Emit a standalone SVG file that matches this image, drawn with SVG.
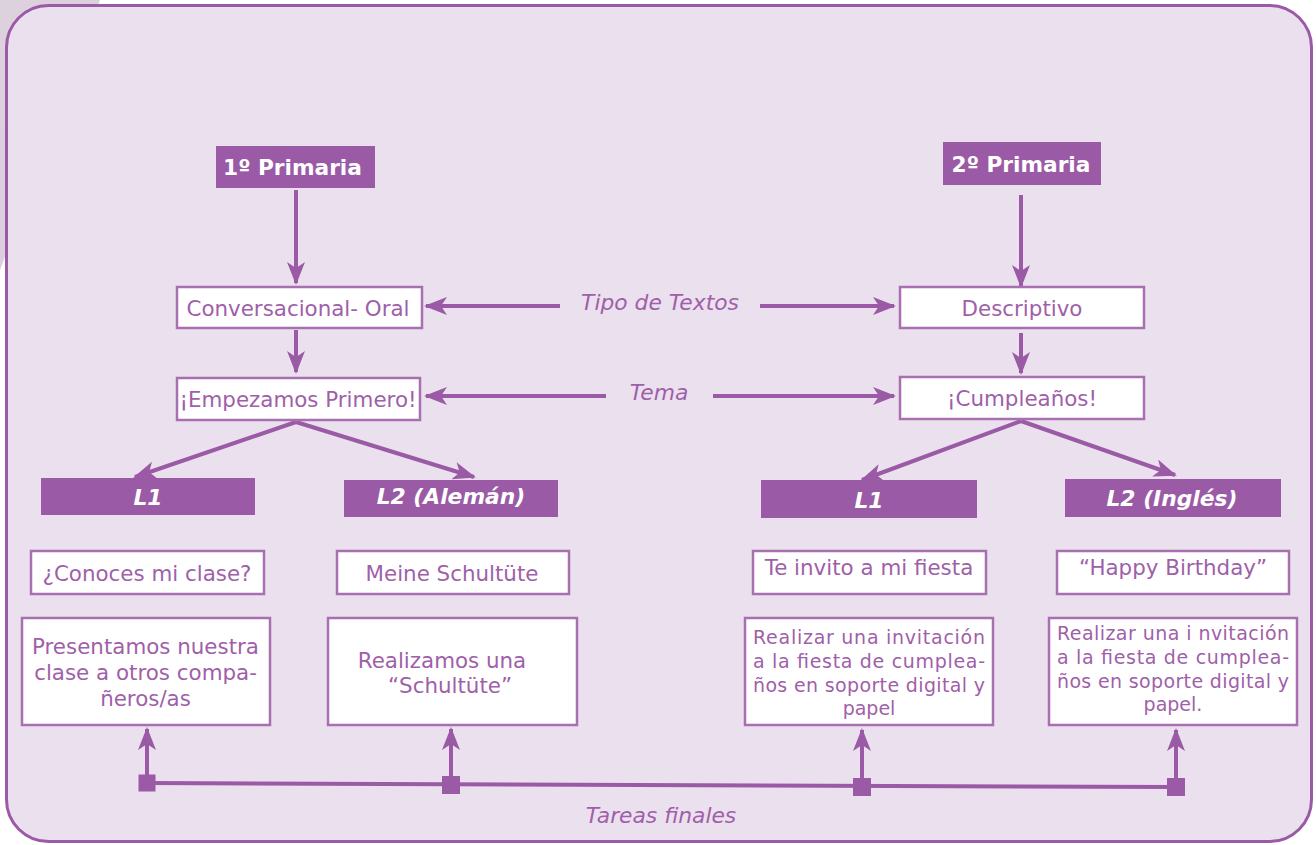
<svg xmlns="http://www.w3.org/2000/svg" width="1316" height="845" viewBox="0 0 1316 845">
<defs>
<linearGradient id="bgDeco" x1="0" y1="0" x2="1" y2="1">
<stop offset="0" stop-color="#dcd2dc"/>
<stop offset="1" stop-color="#dccbe2"/>
</linearGradient>
<marker id="ah" markerUnits="userSpaceOnUse" markerWidth="23" markerHeight="18" viewBox="0 0 23 18" refX="21" refY="9" orient="auto">
<path d="M0,0 L23,9 L0,18 L6,9 z" fill="#9b5aa5"/>
</marker>
</defs>
<style>
.hdr{fill:#9b5aa5;}
.hdrT{fill:#ffffff;font-family:"DejaVu Sans",Verdana,sans-serif;font-weight:bold;font-size:21.7px;text-anchor:middle;}
.hdrI{fill:#ffffff;font-family:"DejaVu Sans",Verdana,sans-serif;font-weight:bold;font-style:italic;font-size:21.8px;text-anchor:middle;}
.box{fill:#ffffff;stroke:#a86fb1;stroke-width:2.5;}
.txt{fill:#a05fa9;font-family:"DejaVu Sans",Verdana,sans-serif;font-size:21.4px;text-anchor:middle;}
.sm{fill:#a05fa9;font-family:"DejaVu Sans",Verdana,sans-serif;font-size:19px;}
.smc{fill:#a05fa9;font-family:"DejaVu Sans",Verdana,sans-serif;font-size:19px;text-anchor:middle;}
.lbl{fill:#a05fa9;font-family:"DejaVu Sans",Verdana,sans-serif;font-style:italic;font-size:21.8px;text-anchor:middle;}
.ln{stroke:#9b5aa5;stroke-width:4;fill:none;}
.arr{stroke:#9b5aa5;stroke-width:4;fill:none;marker-end:url(#ah);}
.sq{fill:#9b5aa5;}
</style>
<rect x="0" y="0" width="1316" height="845" fill="#ffffff"/>
<path d="M0,0 L100,0 L60,110 L0,270 Z" fill="url(#bgDeco)"/>
<rect id="frame" x="6.5" y="5.5" width="1305" height="836" rx="42" ry="42" fill="#ebe0ee" stroke="#9b5aa5" stroke-width="3"/>

<g id="connectors">
<line class="arr" x1="296" y1="190" x2="296" y2="283"/>
<line class="arr" x1="1021" y1="195" x2="1021" y2="286"/>
<line class="arr" x1="296" y1="330" x2="296" y2="372"/>
<line class="arr" x1="1021" y1="333" x2="1021" y2="373"/>
<line class="arr" x1="560" y1="306" x2="426" y2="306"/>
<line class="arr" x1="760" y1="306" x2="894" y2="306"/>
<line class="arr" x1="606" y1="396" x2="426" y2="396"/>
<line class="arr" x1="713" y1="396" x2="894" y2="396"/>
<line class="arr" x1="296" y1="422" x2="135" y2="477"/>
<line class="arr" x1="296" y1="422" x2="474" y2="477"/>
<line class="arr" x1="1021" y1="421" x2="862" y2="480"/>
<line class="arr" x1="1021" y1="421" x2="1175" y2="475"/>
<line class="ln" x1="147" y1="783" x2="1176" y2="787"/>
<line class="arr" x1="147" y1="778" x2="147" y2="729"/>
<line class="arr" x1="451" y1="779" x2="451" y2="729"/>
<line class="arr" x1="862" y1="781" x2="862" y2="730"/>
<line class="arr" x1="1176" y1="781" x2="1176" y2="730"/>
<rect class="sq" x="138.5" y="774.5" width="17" height="17"/>
<rect class="sq" x="442" y="776" width="18" height="18"/>
<rect class="sq" x="853" y="778" width="18" height="18"/>
<rect class="sq" x="1167" y="778" width="18" height="18"/>
</g>

<g id="lbl-tipo"><text class="lbl" x="660" y="310">Tipo de Textos</text></g>
<g id="lbl-tema"><text class="lbl" x="659" y="400">Tema</text></g>
<g id="lbl-tareas"><text class="lbl" x="661" y="823">Tareas finales</text></g>

<g id="n-1primaria"><rect class="hdr" x="216" y="146" width="159" height="42"/><text class="hdrT" x="292.5" y="175">1º Primaria</text></g>
<g id="n-2primaria"><rect class="hdr" x="943" y="142" width="158" height="43"/><text class="hdrT" x="1021" y="172">2º Primaria</text></g>

<g id="n-conversacional"><rect class="box" x="177" y="287" width="245" height="41"/><text class="txt" x="298" y="316">Conversacional- Oral</text></g>
<g id="n-descriptivo"><rect class="box" x="900" y="287" width="244" height="41"/><text class="txt" x="1022" y="316">Descriptivo</text></g>
<g id="n-empezamos"><rect class="box" x="177" y="378" width="243" height="42"/><text class="txt" x="298" y="407">¡Empezamos Primero!</text></g>
<g id="n-cumple"><rect class="box" x="900" y="377" width="244" height="42"/><text class="txt" x="1022" y="406">¡Cumpleaños!</text></g>

<g id="n-l1a"><rect class="hdr" x="41" y="478" width="214" height="37"/><text class="hdrI" x="148" y="505">L1</text></g>
<g id="n-l2a"><rect class="hdr" x="344" y="480" width="214" height="37"/><text class="hdrI" x="451" y="504">L2 (Alemán)</text></g>
<g id="n-l1b"><rect class="hdr" x="761" y="480" width="216" height="38"/><text class="hdrI" x="869" y="508">L1</text></g>
<g id="n-l2b"><rect class="hdr" x="1065" y="479" width="216" height="38"/><text class="hdrI" x="1172" y="506">L2 (Inglés)</text></g>

<g id="n-conoces"><rect class="box" x="31" y="551" width="233" height="43"/><text class="txt" x="147" y="581">¿Conoces mi clase?</text></g>
<g id="n-meine"><rect class="box" x="337" y="551" width="232" height="43"/><text class="txt" x="452" y="581">Meine Schultüte</text></g>
<g id="n-teinvito"><rect class="box" x="753" y="551" width="233" height="43"/><text class="txt" x="869" y="575">Te invito a mi fiesta</text></g>
<g id="n-happy"><rect class="box" x="1057" y="551" width="232" height="43"/><text class="txt" x="1173" y="575">“Happy Birthday”</text></g>

<g id="n-presentamos"><rect class="box" x="22" y="618" width="248" height="107"/>
<text class="txt" x="145.5" y="654">Presentamos nuestra</text>
<text class="txt" x="145.5" y="680">clase a otros compa-</text>
<text class="txt" x="145.5" y="706">ñeros/as</text></g>
<g id="n-realizamos"><rect class="box" x="328" y="618" width="249" height="107"/>
<text class="txt" x="442" y="668">Realizamos una</text>
<text class="txt" x="450" y="693">“Schultüte”</text></g>
<g id="n-realizar1"><rect class="box" x="745" y="618" width="248" height="107"/>
<text class="sm" x="753" y="644" textLength="232" lengthAdjust="spacing">Realizar una invitación</text>
<text class="sm" x="753" y="668" textLength="232" lengthAdjust="spacing">a la fiesta de cumplea-</text>
<text class="sm" x="753" y="692" textLength="232" lengthAdjust="spacing">ños en soporte digital y</text>
<text class="smc" x="869" y="715">papel</text></g>
<g id="n-realizar2"><rect class="box" x="1049" y="618" width="248" height="107"/>
<text class="sm" x="1057" y="640" textLength="232" lengthAdjust="spacing">Realizar una i nvitación</text>
<text class="sm" x="1057" y="664" textLength="232" lengthAdjust="spacing">a la fiesta de cumplea-</text>
<text class="sm" x="1057" y="688" textLength="232" lengthAdjust="spacing">ños en soporte digital y</text>
<text class="smc" x="1173" y="711">papel.</text></g>
</svg>
